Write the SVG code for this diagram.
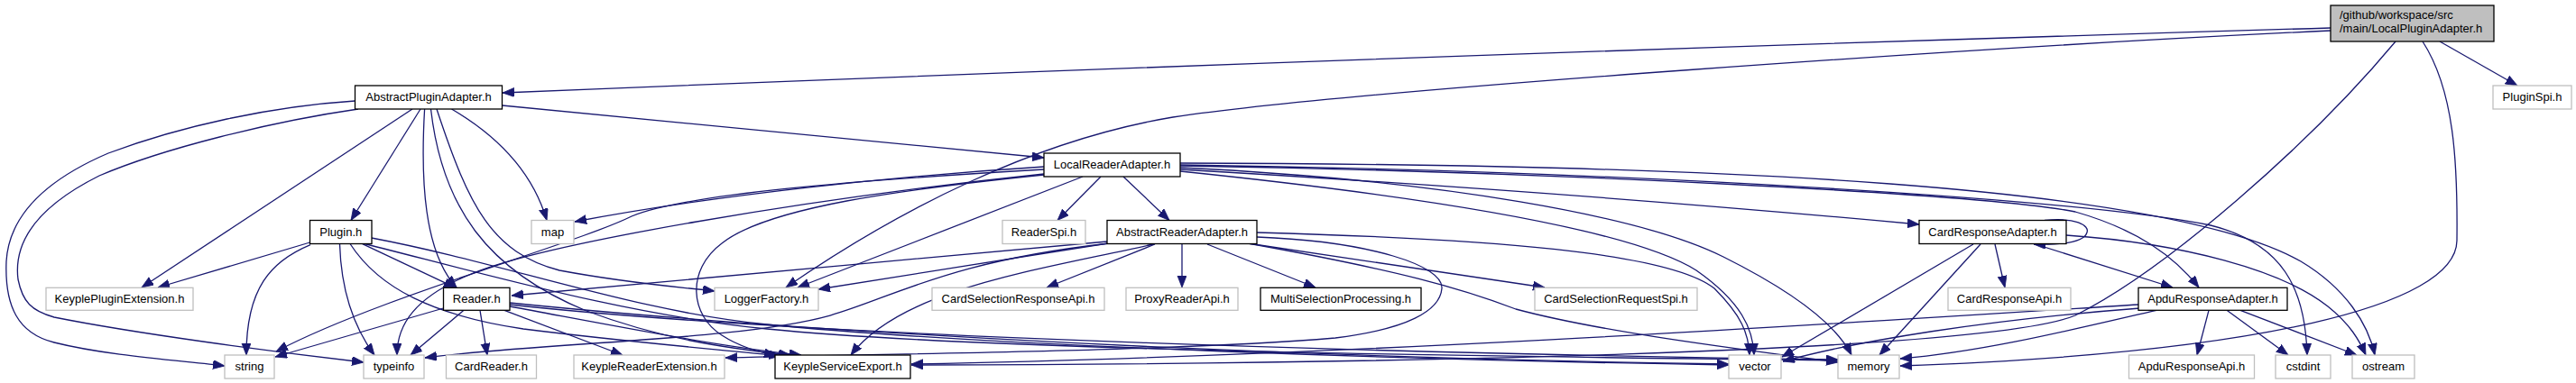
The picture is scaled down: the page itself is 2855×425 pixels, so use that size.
<svg xmlns="http://www.w3.org/2000/svg" width="2855" height="425" viewBox="0 0 2855 425">
<style>
.e{fill:none;stroke:#191970;stroke-width:1.3;marker-end:url(#a)}
.nb rect{fill:#fff;stroke:#000;stroke-width:1.3}
.ng rect{fill:#fff;stroke:#bfbfbf;stroke-width:1.3}
.nr rect{fill:#bfbfbf;stroke:#000;stroke-width:1.3}
text{font-family:"Liberation Sans",Arial,Helvetica,sans-serif;font-size:13px;fill:#000}
.c{text-anchor:middle}
</style>
<defs>
<marker id="a" markerWidth="15" markerHeight="12" refX="13" refY="5" orient="auto" markerUnits="userSpaceOnUse">
<path d="M0,0 L13,5 L0,10 z" fill="#191970" stroke="#191970" stroke-width="0.8"/>
</marker>
</defs>
<rect x="0" y="0" width="2855" height="425" fill="#fff"/>
<g id="edges">
<path class="e" d="M2583,31 Q1600,60 557,103"/>
<path class="e" d="M2583,34 C2200,52 1500,100 1300,130 C1150,155 1000,230 871,319"/>
<path class="e" d="M2655,46 C2560,160 2400,300 2300,350 C2200,392 1500,404 1010,405"/>
<path class="e" d="M2685,46 C2720,100 2724,180 2723,267 C2722,340 2500,392 2106,406"/>
<path class="e" d="M2704,46 L2790,95"/>
<path class="e" d="M393.5,112 C300,118 200,140 120,170 C50,200 10,240 7,290 C5,340 20,370 60,380 C120,395 200,400 249,406"/>
<path class="e" d="M397,121 C300,135 180,165 110,195 C40,230 15,270 20,310 C25,335 35,345 60,352 C150,370 300,390 403,402"/>
<path class="e" d="M457,121 L157,319"/>
<path class="e" d="M466,121 L389,244.5"/>
<path class="e" d="M470.6,121 C466,200 470,280 506,319"/>
<path class="e" d="M477.5,121 C490,230 540,300 650,345 C730,375 800,386 876,394"/>
<path class="e" d="M484,121 C520,230 545,280 620,300 C700,315 750,318 792,323"/>
<path class="e" d="M500.5,121 C550,150 590,190 606,244.5"/>
<path class="e" d="M556.5,117 L1157,175"/>
<path class="e" d="M343.5,269 L175,319"/>
<path class="e" d="M344,271.7 C300,290 273,320 273,394"/>
<path class="e" d="M376.5,270.7 C378,320 390,360 415,394"/>
<path class="e" d="M401.7,270.7 L505,319.3"/>
<path class="e" d="M388,270.5 C420,320 480,350 580,365 C700,380 800,388 865,395"/>
<path class="e" d="M411.7,264 C560,292 700,345 850,360 C1100,385 1600,400 1916,405"/>
<path class="e" d="M404,270.5 C560,310 700,350 850,365 C1100,390 1700,396 2037,400"/>
<path class="e" d="M491.5,342 L305,396"/>
<path class="e" d="M514,344.3 L455,394"/>
<path class="e" d="M532,344.3 L540,394"/>
<path class="e" d="M559,344.3 L690,394"/>
<path class="e" d="M565,340 C700,365 800,385 888,394"/>
<path class="e" d="M565,336 C800,360 1300,395 1916,404"/>
<path class="e" d="M565,338 C900,375 1600,393 2037,399"/>
<path class="e" d="M1157,185 C1000,195 800,215 637,246"/>
<path class="e" d="M1157,188 C950,200 760,215 700,240 C640,270 420,330 306,390"/>
<path class="e" d="M1157,193 C900,220 600,270 520,305 C460,330 440,360 440,394"/>
<path class="e" d="M1200,196 L884,319"/>
<path class="e" d="M1220,196 L1172,244.5"/>
<path class="e" d="M1245,196 L1296,244.5"/>
<path class="e" d="M1157,194 C1000,210 850,230 800,270 C760,300 765,350 800,372 C820,385 840,390 860,395"/>
<path class="e" d="M1308,188 C1600,205 1900,228 2127,249"/>
<path class="e" d="M1308,184 C1700,190 2200,215 2300,235 C2370,255 2410,285 2437,319"/>
<path class="e" d="M1308,183 C1800,190 2300,220 2450,250 C2530,270 2555,320 2557,394"/>
<path class="e" d="M1308,181 C1900,182 2400,205 2550,290 C2600,320 2625,360 2632,394"/>
<path class="e" d="M1308,190 C1550,215 1800,250 1880,300 C1930,335 1943,365 1944,394"/>
<path class="e" d="M1308,186 C1600,200 1820,240 1910,285 C1990,325 2035,360 2052,394"/>
<path class="e" d="M1227,268 C1000,290 800,305 567,328"/>
<path class="e" d="M1228,270 L907,321"/>
<path class="e" d="M1230,270 C1050,290 990,330 920,350 C820,378 600,380 471,397"/>
<path class="e" d="M1278,271 C1150,300 1000,320 943,394"/>
<path class="e" d="M1280,271 L1160,319"/>
<path class="e" d="M1310,271 L1310,319"/>
<path class="e" d="M1338,271 L1458,319"/>
<path class="e" d="M1383,270 L1712,319"/>
<path class="e" d="M1393,258 C1650,265 1850,280 1900,320 C1930,350 1938,370 1939,394"/>
<path class="e" d="M1383,270 C1550,300 1620,320 1680,343 C1780,370 1950,390 2037,402"/>
<path class="e" d="M1393,263 C1520,268 1600,295 1598,320 C1596,345 1560,365 1480,375 C1300,390 1000,392 804,397"/>
<path class="e" d="M2266,244.5 C2300,241 2316,250 2313,258 C2310,268 2290,272 2254,271"/>
<path class="e" d="M2256,271 L2408,319"/>
<path class="e" d="M2211,271 L2222,319"/>
<path class="e" d="M2187,271 L1975,396"/>
<path class="e" d="M2195,271 L2083,394"/>
<path class="e" d="M2290,261 C2420,270 2530,300 2580,340 C2605,360 2615,378 2622,394"/>
<path class="e" d="M2448,344.3 L2435,394"/>
<path class="e" d="M2468,344.3 L2536,394"/>
<path class="e" d="M2483,344.3 L2612,394"/>
<path class="e" d="M2390,344.3 C2300,365 2200,390 2106,398"/>
<path class="e" d="M2372,342 C2200,355 2060,378 1976,401"/>
<path class="e" d="M2370,338 C2100,355 1500,395 1010,404"/>
</g>
<g id="n_root" class="nr"><rect x="2583" y="6" width="181" height="40"/><text x="2593" y="21">/github/workspace/src</text><text x="2593" y="36">/main/LocalPluginAdapter.h</text></g>
<g id="n_AbstractPluginAdapter" class="nb"><rect x="393.5" y="95" width="163" height="26"/><text class="c" x="475" y="112">AbstractPluginAdapter.h</text></g>
<g id="n_PluginSpi" class="ng"><rect x="2763" y="95" width="87" height="26"/><text class="c" x="2806.5" y="112">PluginSpi.h</text></g>
<g id="n_LocalReaderAdapter" class="nb"><rect x="1157" y="170" width="151" height="26"/><text class="c" x="1232.5" y="187">LocalReaderAdapter.h</text></g>
<g id="n_Plugin" class="nb"><rect x="343.5" y="244.5" width="68.5" height="26"/><text class="c" x="377.75" y="261.5">Plugin.h</text></g>
<g id="n_map" class="ng"><rect x="589" y="244.5" width="47" height="26"/><text class="c" x="612.5" y="261.5">map</text></g>
<g id="n_ReaderSpi" class="ng"><rect x="1111" y="244.5" width="92" height="26"/><text class="c" x="1157" y="261.5">ReaderSpi.h</text></g>
<g id="n_AbstractReaderAdapter" class="nb"><rect x="1227" y="244.5" width="166" height="26"/><text class="c" x="1310" y="261.5">AbstractReaderAdapter.h</text></g>
<g id="n_CardResponseAdapter" class="nb"><rect x="2127" y="244.5" width="163" height="26"/><text class="c" x="2208.5" y="261.5">CardResponseAdapter.h</text></g>
<g id="n_KeyplePluginExtension" class="ng"><rect x="51" y="319.3" width="163" height="25"/><text class="c" x="132.5" y="336">KeyplePluginExtension.h</text></g>
<g id="n_Reader" class="nb"><rect x="491.5" y="319.3" width="73.5" height="25"/><text class="c" x="528.25" y="336">Reader.h</text></g>
<g id="n_LoggerFactory" class="ng"><rect x="792" y="319.3" width="115" height="25"/><text class="c" x="849.5" y="336">LoggerFactory.h</text></g>
<g id="n_CardSelectionResponseApi" class="ng"><rect x="1033" y="319.3" width="191" height="25"/><text class="c" x="1128.5" y="336">CardSelectionResponseApi.h</text></g>
<g id="n_ProxyReaderApi" class="ng"><rect x="1248" y="319.3" width="124" height="25"/><text class="c" x="1310" y="336">ProxyReaderApi.h</text></g>
<g id="n_MultiSelectionProcessing" class="nb"><rect x="1397" y="319.3" width="178" height="25"/><text class="c" x="1486" y="336">MultiSelectionProcessing.h</text></g>
<g id="n_CardSelectionRequestSpi" class="ng"><rect x="1701" y="319.3" width="180" height="25"/><text class="c" x="1791" y="336">CardSelectionRequestSpi.h</text></g>
<g id="n_CardResponseApi" class="ng"><rect x="2159" y="319.3" width="136" height="25"/><text class="c" x="2227" y="336">CardResponseApi.h</text></g>
<g id="n_ApduResponseAdapter" class="nb"><rect x="2370" y="319.3" width="165" height="25"/><text class="c" x="2452.5" y="336">ApduResponseAdapter.h</text></g>
<g id="n_string" class="ng"><rect x="249" y="394" width="55" height="26"/><text class="c" x="276.5" y="411">string</text></g>
<g id="n_typeinfo" class="ng"><rect x="403" y="394" width="67" height="26"/><text class="c" x="436.5" y="411">typeinfo</text></g>
<g id="n_CardReader" class="ng"><rect x="494.5" y="394" width="100" height="26"/><text class="c" x="544.5" y="411">CardReader.h</text></g>
<g id="n_KeypleReaderExtension" class="ng"><rect x="636" y="394" width="167" height="26"/><text class="c" x="719.5" y="411">KeypleReaderExtension.h</text></g>
<g id="n_KeypleServiceExport" class="nb"><rect x="859" y="394" width="150" height="26"/><text class="c" x="934" y="411">KeypleServiceExport.h</text></g>
<g id="n_vector" class="ng"><rect x="1916" y="394" width="58" height="26"/><text class="c" x="1945" y="411">vector</text></g>
<g id="n_memory" class="ng"><rect x="2037" y="394" width="68" height="26"/><text class="c" x="2071" y="411">memory</text></g>
<g id="n_ApduResponseApi" class="ng"><rect x="2359.5" y="394" width="139" height="26"/><text class="c" x="2429" y="411">ApduResponseApi.h</text></g>
<g id="n_cstdint" class="ng"><rect x="2522" y="394" width="61" height="26"/><text class="c" x="2552.5" y="411">cstdint</text></g>
<g id="n_ostream" class="ng"><rect x="2607" y="394" width="69" height="26"/><text class="c" x="2641.5" y="411">ostream</text></g>
</svg>
